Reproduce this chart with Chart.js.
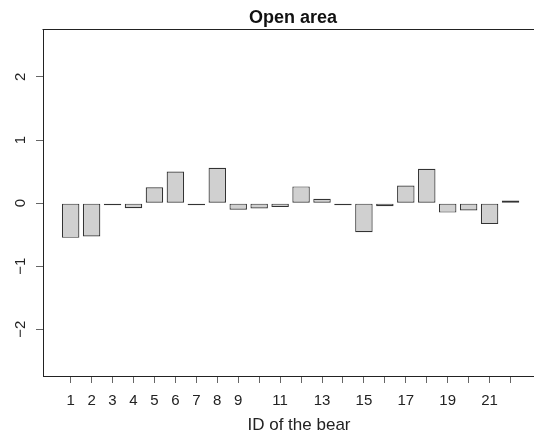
<!DOCTYPE html>
<html>
<head>
<meta charset="utf-8">
<script src="https://cdn.jsdelivr.net/npm/chart.js@4/dist/chart.umd.min.js"></script>
<style>
html,body{margin:0;padding:0;background:#fff;}
#wrap{width:534px;height:434px;position:relative;}
</style>
</head>
<body>
<div id="wrap"><canvas id="c" width="534" height="434"></canvas></div>
<script>
const chartTitle = 'Open area';
const xAxisTitle = 'ID of the bear';
const bearIds = [1,2,3,4,5,6,7,8,9,10,11,12,13,14,15,16,17,18,19,20,21,22];
const values = [-0.55,-0.53,-0.02,-0.08,0.25,0.50,-0.03,0.56,-0.105,-0.085,-0.06,0.265,0.07,-0.02,-0.46,-0.05,0.28,0.545,-0.15,-0.115,-0.33,0.04];
const xTickLabels = ['1','2','3','4','5','6','7','8','9','','11','','13','','15','','17','','19','','21',''];
const yTickValues = [-2,-1,0,1,2];
const yTickLabels = ['\u22122','\u22121','0','1','2'];

const FONT = '"Liberation Sans", Arial, Helvetica, sans-serif';

const decor = {
  id: 'decor',
  afterDraw(chart) {
    const ctx = chart.ctx, a = chart.chartArea, ys = chart.scales.y;
    ctx.save();
    ctx.strokeStyle = '#222';
    ctx.lineWidth = 1;
    ctx.beginPath();
    ctx.moveTo(a.left - 0.5, a.top + 0.5);
    ctx.lineTo(a.right, a.top + 0.5);
    ctx.stroke();
    ctx.fillStyle = '#222';
    ctx.font = '15px ' + FONT;
    ctx.textAlign = 'center';
    ctx.textBaseline = 'middle';
    yTickValues.forEach((v, i) => {
      const py = ys.getPixelForValue(v);
      ctx.save();
      ctx.translate(a.left - 22, py);
      ctx.rotate(-Math.PI / 2);
      ctx.fillText(yTickLabels[i], 0, 0);
      ctx.restore();
    });
    ctx.font = 'bold 18px ' + FONT;
    ctx.fillStyle = '#111';
    ctx.textBaseline = 'alphabetic';
    ctx.fillText(chartTitle, a.left + 250, 23);
    ctx.font = '17px ' + FONT;
    ctx.fillStyle = '#222';
    ctx.fillText(xAxisTitle, a.left + 256, 430);
    ctx.restore();
  }
};

new Chart(document.getElementById('c'), {
  type: 'bar',
  data: {
    datasets: [{
      data: bearIds.map((id, i) => ({x: id, y: values[i]})),
      backgroundColor: '#d0d0d0',
      borderColor: '#333',
      borderWidth: 1.2,
      borderSkipped: false,
      minBarLength: 2,
      categoryPercentage: 1,
      barPercentage: 1 / 1.2
    }]
  },
  options: {
    responsive: false,
    animation: false,
    events: [],
    layout: {padding: {top: 29, right: 0, left: 0, bottom: 0}},
    plugins: {legend: {display: false}, title: {display: false}, tooltip: {enabled: false}},
    scales: {
      x: {
        type: 'linear',
        offset: false,
        min: -0.32,
        max: 23.12,
        afterBuildTicks(scale) { scale.ticks = bearIds.map(v => ({value: v})); },
        afterFit(scale) { scale.height = 58; },
        ticks: {
          autoSkip: false, maxRotation: 0, minRotation: 0,
          color: '#222', font: {size: 15, family: FONT}, padding: 9,
          callback(value) { const i = bearIds.indexOf(value); return i >= 0 ? xTickLabels[i] : ''; }
        },
        grid: {display: true, offset: false, drawOnChartArea: false, drawTicks: true, tickLength: 7, color: '#666'},
        border: {display: true, color: '#222', width: 1}
      },
      y: {
        type: 'linear',
        min: -2.74,
        max: 2.76,
        afterBuildTicks(scale) { scale.ticks = yTickValues.map(v => ({value: v})); },
        afterFit(scale) { scale.width = 43; },
        ticks: {display: false},
        grid: {display: true, drawOnChartArea: false, drawTicks: true, tickLength: 7, color: '#666'},
        border: {display: true, color: '#222', width: 1}
      }
    }
  },
  plugins: [decor]
});
</script>
</body>
</html>
